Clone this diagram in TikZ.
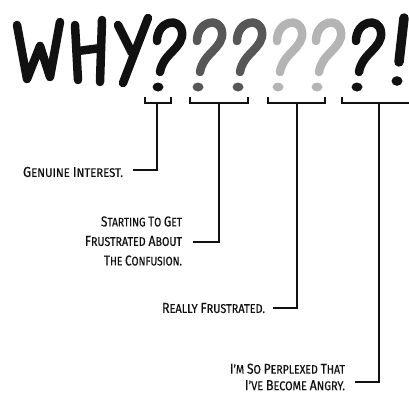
\documentclass[tikz,border=0pt]{standalone}
\usepackage{fontspec}
\setmainfont{Fira Sans}[FakeBold=0.5]
\definecolor{qdark}{HTML}{575757}
\definecolor{qlight}{HTML}{B4B4B4}
\definecolor{ink}{HTML}{111111}
\newcommand\qmk[3]{%
 \begin{scope}[shift={(#1,#2)}]
  \draw[#3, line width=8.5pt, line cap=round, line join=round]
    (-1,-46) .. controls (-1,-66) and (22,-71) .. (24,-55)
    .. controls (26,-39) and (5,-34) .. (2,-15);
  \fill[#3] (0,0) ellipse (5.5pt and 4.5pt);
 \end{scope}}
\newcommand\fitt[2]{\resizebox{#1pt}{10pt}{#2}}
\newcommand\Bg[1]{{\fontsize{11.5}{11.5}\selectfont #1}}
\tikzset{
  lbl/.style={inner sep=0pt, outer sep=0pt, align=right, anchor=east, text=ink},
  conn/.style={draw=ink, line width=2.8pt},
  brk/.style={draw=ink, line width=2.4pt},
  glyph/.style={draw=ink, line width=8.5pt, line cap=round, line join=round}
}
\begin{document}
\begin{tikzpicture}[x=1pt, y=-1pt]
\useasboundingbox (0,0) rectangle (409,394);
% title WHY
\draw[glyph] (17,25) -- (27,79) -- (40,46) -- (50,77) -- (60,22);
\draw[glyph] (75,25) -- (78,80);
\draw[glyph] (102,20) -- (100,82);
\draw[glyph] (78,51) -- (101,48);
\draw[glyph] (118,25) -- (132,53);
\draw[glyph] (148,18) -- (123,83);
% question marks
\qmk{158}{87}{ink}
\qmk{198}{87}{qdark}
\qmk{238}{87}{qdark}
\qmk{278}{87}{qlight}
\qmk{317}{87}{qlight}
\qmk{357}{87}{ink}
% exclamation
\draw[ink, line width=9.5pt, line cap=round] (404,18) -- (399,62);
\fill[ink] (397,81) ellipse (5.5pt and 4.8pt);
% brackets
\draw[brk] (145,97) -- (145,103) -- (171,103) -- (171,97);
\draw[brk] (190,97) -- (190,103) -- (248,103) -- (248,97);
\draw[brk] (268,97) -- (268,103) -- (325,103) -- (325,97);
\draw[brk] (342,97) -- (342,103) -- (415,103);
\coordinate (b1) at (157,103);
\coordinate (b2) at (219,103);
\coordinate (b3) at (297,103);
\coordinate (b4) at (379,103);
% labels
\node[lbl, font=\fontsize{10}{19}\selectfont] (l1) at (123,172)
  {\fitt{100}{\Bg{G}ENUINE \Bg{I}NTEREST.}};
\node[lbl, font=\fontsize{10}{19.5}\selectfont] (l2) at (182,241)
  {\fitt{81}{\Bg{S}TARTING \Bg{T}O \Bg{G}ET}\\
   \fitt{97}{\Bg{F}RUSTRATED \Bg{A}BOUT}\\
   \fitt{78}{\Bg{T}HE \Bg{C}ONFUSION.}};
\node[lbl, font=\fontsize{10}{19}\selectfont] (l3) at (265,308)
  {\fitt{103}{\Bg{R}EALLY \Bg{F}RUSTRATED.}};
\node[lbl, font=\fontsize{10}{16.5}\selectfont] (l4) at (345,377)
  {\fitt{115}{\Bg{I}'M \Bg{S}O \Bg{P}ERPLEXED \Bg{T}HAT}\\
   \fitt{100}{\Bg{I}'VE \Bg{B}ECOME \Bg{A}NGRY.}};
% connectors
\draw[conn] (b1) |- ([xshift=10pt,yshift=2pt]l1.east);
\draw[conn] (b2) |- ([xshift=11pt,yshift=-1pt]l2.east);
\draw[conn] (b3) |- ([xshift=8pt]l3.east);
\draw[conn] (b4) |- ([xshift=10pt,yshift=-5pt]l4.east);
\end{tikzpicture}
\end{document}
